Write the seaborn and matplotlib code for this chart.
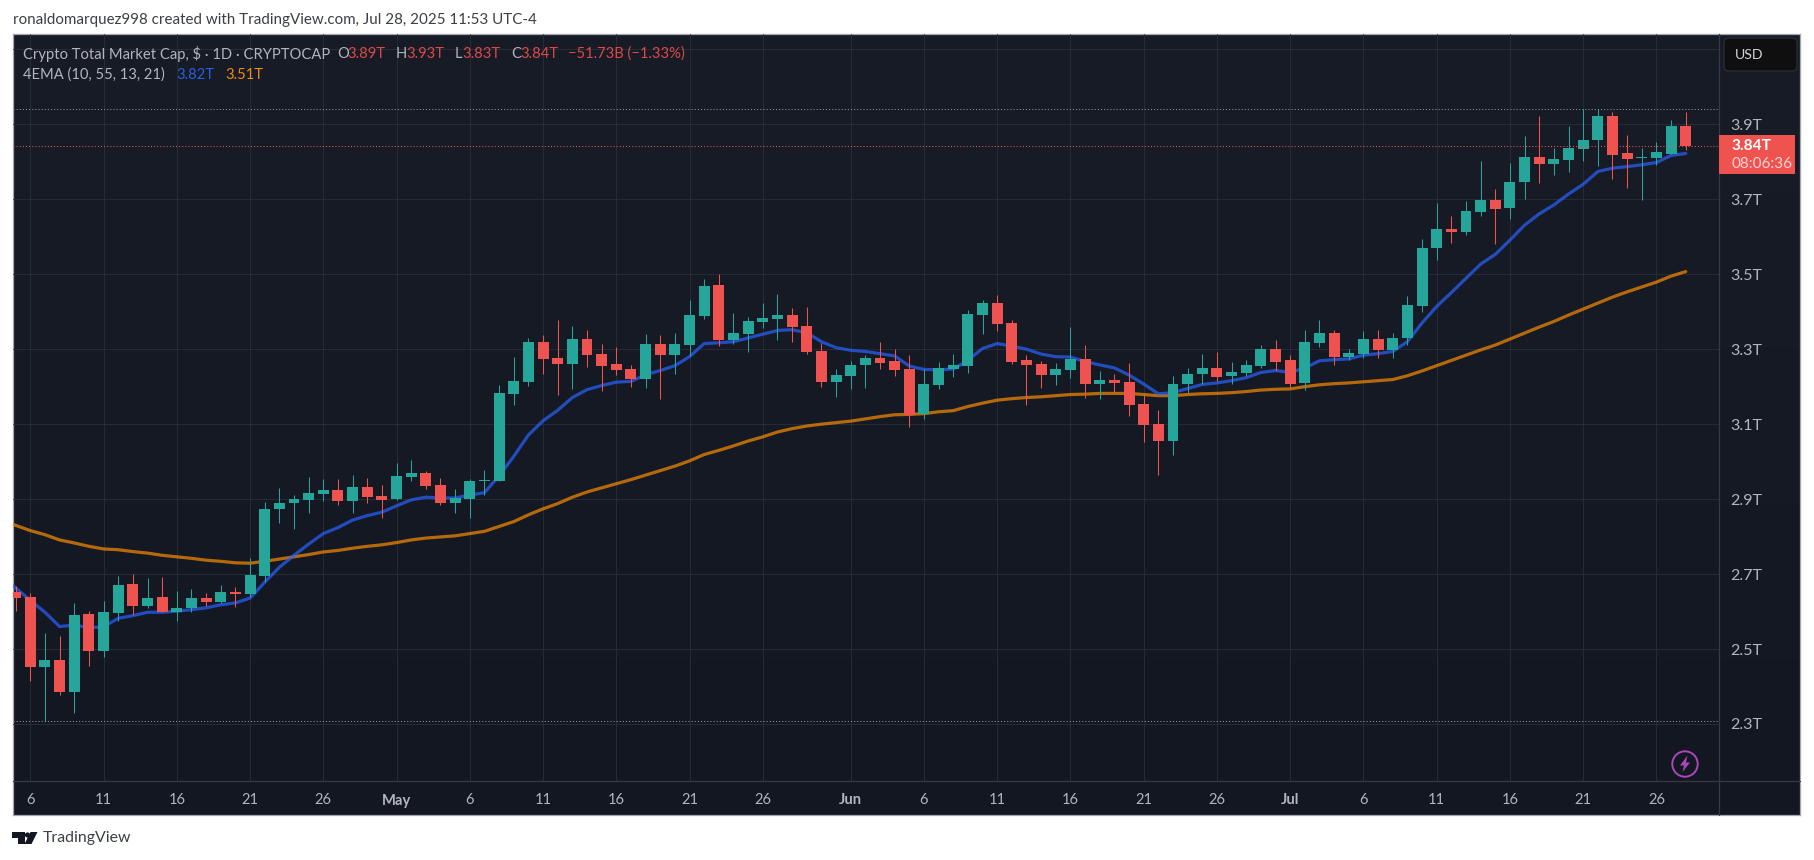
import numpy as np
import pandas as pd
import seaborn as sns
import matplotlib
matplotlib.use("Agg")
import matplotlib.pyplot as plt
import matplotlib.dates as mdates
from matplotlib.patches import Rectangle, FancyBboxPatch, Circle, Polygon
from matplotlib.colors import LinearSegmentedColormap
from matplotlib import transforms

# ---- data (trillions USD), daily 5 Apr .. 28 Jul 2025 ----
opens = [2.651,2.638,2.453,2.472,2.386,2.593,2.496,2.595,2.673,2.614,2.638,2.598,2.609,2.635,2.625,2.651,2.646,2.694,2.874,2.890,2.898,2.914,2.924,2.895,2.932,2.908,
 2.900,2.959,2.970,2.938,2.890,2.900,2.948,2.949,3.181,3.213,3.320,3.277,3.261,3.328,3.288,3.261,3.248,3.221,3.314,3.285,3.312,3.389,3.472,3.325,3.341,3.373,3.381,3.392,3.362,3.296,3.213,
 3.229,3.258,3.277,3.269,3.248,3.128,3.205,3.248,3.256,3.392,3.424,3.370,3.272,3.261,3.232,3.245,3.274,3.208,3.218,3.213,3.154,3.101,3.056,3.208,3.234,3.250,3.229,3.237,3.256,3.301,
 3.272,3.210,3.317,3.344,3.280,3.288,3.328,3.298,3.330,3.415,3.570,3.621,3.613,3.666,3.698,3.677,3.746,3.813,3.794,3.805,3.834,3.858,3.922,3.824,3.810,3.810,3.821,3.895]
highs = [2.667,2.649,2.542,2.534,2.622,2.601,2.627,2.694,2.700,2.689,2.692,2.654,2.659,2.649,2.670,2.665,2.742,2.892,2.930,2.911,2.959,2.954,2.954,2.964,2.956,2.938,
 2.997,3.005,2.975,2.956,2.927,2.954,2.978,3.205,3.280,3.330,3.338,3.378,3.362,3.352,3.314,3.306,3.258,3.341,3.338,3.344,3.432,3.488,3.501,3.397,3.386,3.424,3.448,3.410,3.413,3.317,3.248,
 3.269,3.285,3.320,3.301,3.285,3.248,3.266,3.288,3.405,3.432,3.445,3.378,3.285,3.269,3.264,3.360,3.312,3.242,3.234,3.264,3.181,3.138,3.229,3.250,3.288,3.293,3.266,3.272,3.312,3.325,
 3.285,3.352,3.378,3.352,3.301,3.349,3.352,3.344,3.442,3.594,3.690,3.655,3.695,3.802,3.727,3.797,3.869,3.922,3.837,3.895,3.941,3.941,3.933,3.871,3.837,3.853,3.912,3.933]
lows = [2.601,2.416,2.309,2.378,2.328,2.456,2.480,2.576,2.590,2.609,2.598,2.574,2.598,2.614,2.622,2.611,2.638,2.678,2.836,2.820,2.863,2.895,2.884,2.863,2.890,2.849,
 2.898,2.948,2.927,2.884,2.863,2.849,2.911,2.949,3.152,3.202,3.234,3.178,3.194,3.253,3.189,3.232,3.200,3.197,3.168,3.234,3.282,3.381,3.309,3.314,3.293,3.357,3.325,3.320,3.288,3.200,3.173,
 3.194,3.197,3.248,3.229,3.093,3.114,3.194,3.226,3.237,3.341,3.349,3.261,3.152,3.197,3.205,3.224,3.170,3.168,3.184,3.122,3.053,2.965,3.018,3.184,3.208,3.216,3.208,3.229,3.250,3.242,
 3.197,3.192,3.306,3.258,3.272,3.277,3.277,3.277,3.312,3.399,3.538,3.583,3.605,3.655,3.581,3.647,3.701,3.743,3.765,3.773,3.802,3.789,3.754,3.730,3.698,3.792,3.821,3.832]
closes = [2.635,2.453,2.472,2.386,2.590,2.496,2.598,2.670,2.614,2.635,2.598,2.609,2.635,2.625,2.651,2.646,2.697,2.874,2.890,2.900,2.916,2.924,2.895,2.932,2.906,2.898,
 2.962,2.970,2.935,2.890,2.903,2.948,2.951,3.184,3.216,3.320,3.274,3.261,3.328,3.285,3.256,3.245,3.221,3.314,3.285,3.314,3.392,3.469,3.325,3.344,3.376,3.384,3.392,3.360,3.293,3.213,3.232,
 3.258,3.277,3.264,3.245,3.125,3.208,3.250,3.258,3.394,3.424,3.368,3.266,3.258,3.232,3.248,3.274,3.208,3.218,3.210,3.152,3.098,3.056,3.208,3.234,3.250,3.226,3.240,3.258,3.301,3.266,
 3.208,3.320,3.344,3.280,3.290,3.328,3.298,3.330,3.418,3.570,3.621,3.613,3.669,3.698,3.674,3.746,3.813,3.794,3.807,3.837,3.858,3.922,3.818,3.807,3.813,3.826,3.895,3.842]

# EMAs, daily 4 Apr .. 28 Jul 2025
ema_fast = [2.692,2.663,2.630,2.598,2.560,2.564,2.557,2.559,2.582,2.589,2.598,2.598,2.601,2.605,2.610,2.618,2.623,2.636,2.678,2.718,2.750,2.780,2.808,2.824,2.844,2.856,2.865,
 2.882,2.898,2.905,2.903,2.903,2.911,2.917,2.962,3.014,3.071,3.109,3.137,3.171,3.192,3.203,3.212,3.214,3.232,3.243,3.256,3.280,3.315,3.317,3.320,3.330,3.340,3.350,3.352,3.344,3.320,3.304,
 3.297,3.294,3.288,3.282,3.255,3.246,3.245,3.247,3.270,3.302,3.315,3.308,3.300,3.287,3.280,3.279,3.267,3.258,3.250,3.231,3.207,3.181,3.184,3.195,3.206,3.210,3.216,3.224,3.238,3.243,
 3.238,3.250,3.269,3.272,3.274,3.284,3.288,3.294,3.320,3.370,3.414,3.451,3.489,3.527,3.553,3.591,3.631,3.661,3.685,3.714,3.740,3.774,3.783,3.787,3.792,3.798,3.817,3.822]
ema_slow = [2.844,2.830,2.816,2.805,2.791,2.783,2.774,2.767,2.765,2.760,2.756,2.750,2.746,2.742,2.737,2.734,2.730,2.729,2.734,2.740,2.746,2.752,2.759,2.763,2.769,2.774,2.778,
 2.784,2.791,2.796,2.799,2.802,2.808,2.814,2.827,2.840,2.858,2.874,2.888,2.905,2.919,2.930,2.941,2.952,2.964,2.976,2.988,3.002,3.019,3.030,3.042,3.055,3.066,3.079,3.088,3.095,3.100,3.104,
 3.108,3.114,3.120,3.125,3.126,3.128,3.133,3.136,3.147,3.156,3.164,3.168,3.171,3.173,3.176,3.179,3.180,3.182,3.182,3.182,3.179,3.176,3.176,3.179,3.181,3.182,3.184,3.187,3.191,3.193,
 3.194,3.200,3.205,3.208,3.210,3.213,3.216,3.219,3.229,3.242,3.256,3.270,3.284,3.298,3.311,3.327,3.343,3.359,3.374,3.391,3.407,3.423,3.439,3.453,3.466,3.479,3.495,3.507]

price_ticks = [2.3,2.5,2.7,2.9,3.1,3.3,3.5,3.7,3.9,4.1]
price_tick_labels = ["2.3T","2.5T","2.7T","2.9T","3.1T","3.3T","3.5T","3.7T","3.9T",""]
date_ticks = ["2025-04-06","2025-04-11","2025-04-16","2025-04-21","2025-04-26","2025-05-01","2025-05-06","2025-05-11","2025-05-16","2025-05-21","2025-05-26",
              "2025-06-01","2025-06-06","2025-06-11","2025-06-16","2025-06-21","2025-06-26","2025-07-01","2025-07-06","2025-07-11","2025-07-16","2025-07-21","2025-07-26"]
date_tick_labels = ["6","11","16","21","26","May","6","11","16","21","26","Jun","6","11","16","21","26","Jul","6","11","16","21","26"]
range_high = 3.94
range_low = 2.307
last_price = 3.843

UP, DOWN = "#26A69A", "#EF5350"
FONT = "Lato"

sns.set_theme(style="dark")
plt.rcParams["font.family"] = [FONT, "DejaVu Sans"]

W, H = 1814, 860
fig = plt.figure(figsize=(W/100, H/100), dpi=100, facecolor="white")
T = transforms.Affine2D().scale(1, -1).translate(0, H)   # pixel coords, y down

def rect_axes(x0, y0, x1, y1):
    return [x0/W, 1-y1/H, (x1-x0)/W, (y1-y0)/H]

# background panel with the soft vertical gradient
bg = fig.add_axes(rect_axes(13, 34, 1800, 815), zorder=0)
cm = LinearSegmentedColormap.from_list("bg", ["#181C27", "#131722"])
bg.imshow(np.linspace(0, 1, 256)[:, None], cmap=cm, aspect="auto")
bg.set_xticks([]); bg.set_yticks([])
for s in bg.spines.values():
    s.set_color("#A3A6AF"); s.set_linewidth(0.9)

ax = fig.add_axes(rect_axes(13, 34, 1719, 781), zorder=1)
ax.patch.set_alpha(0)

dates = pd.date_range("2025-04-05", "2025-07-28", freq="D")
ema_dates = pd.date_range("2025-04-04", "2025-07-28", freq="D")
ohlc = pd.DataFrame({"date": dates, "o": opens, "h": highs, "l": lows, "c": closes})
ema = pd.DataFrame({"date": ema_dates, "fast": ema_fast, "slow": ema_slow})

sns.lineplot(data=ema, x="date", y="slow", ax=ax, color="#FB8C00", alpha=0.7, lw=2.3, zorder=2, errorbar=None, legend=False)
sns.lineplot(data=ema, x="date", y="fast", ax=ax, color="#2962FF", alpha=0.7, lw=2.3, zorder=2, errorbar=None, legend=False)

colors = [UP if c >= o else DOWN for o, c in zip(ohlc.o, ohlc.c)]
ax.vlines(ohlc.date, ohlc.l, ohlc.h, colors=colors, lw=0.75, zorder=3)
ax.bar(ohlc.date, np.maximum(np.abs(ohlc.c-ohlc.o), 0.0035), bottom=np.minimum(ohlc.o, ohlc.c),
       width=0.75, color=colors, lw=0, zorder=4)

ax.axhline(range_high, color="#9598A1", lw=0.75, ls=(0, (1, 2)), zorder=5)
ax.axhline(range_low, color="#9598A1", lw=0.75, ls=(0, (1, 2)), zorder=5)
ax.axhline(last_price, color=DOWN, lw=0.75, ls=(0, (1, 2)), zorder=5)

PX_T = 374.8
ax.set_ylim(3.9-(781-124.3)/PX_T, 3.9+(124.3-34)/PX_T)
d0 = mdates.date2num(pd.Timestamp("2025-04-06"))
PX_D = 14.65
ax.set_xlim(d0-(30.3-13)/PX_D, d0+(1719-30.3)/PX_D)

ax.grid(True, color="#2A2E39", lw=0.75, alpha=0.85)
ax.set_axisbelow(True)
ax.set_yticks(price_ticks, price_tick_labels)
ax.set_xticks(pd.to_datetime(date_ticks), date_tick_labels)
ax.yaxis.tick_right()
ax.tick_params(axis="y", length=0, pad=8, labelsize=11.6, labelcolor="#B2B5BE")
ax.tick_params(axis="x", length=0, pad=9, labelsize=10.6, labelcolor="#B2B5BE")
for lab, s in zip(ax.get_xticklabels(), date_tick_labels):
    if not s.isdigit():
        lab.set_fontweight("bold")
ax.set_xlabel(""); ax.set_ylabel("")
for s in ax.spines.values():
    s.set_visible(False)
ax.spines["right"].set_visible(True); ax.spines["right"].set_color("#363A45"); ax.spines["right"].set_linewidth(0.9)
ax.spines["bottom"].set_visible(True); ax.spines["bottom"].set_color("#363A45"); ax.spines["bottom"].set_linewidth(0.9)
# separators continuing through the panels
fig.add_artist(plt.Line2D([1719, 1719], [781, 815], transform=T, color="#363A45", lw=0.9))
fig.add_artist(plt.Line2D([1719, 1800], [781, 781], transform=T, color="#363A45", lw=0.9))

def txt(x, y, s, color, size=10.6, **kw):
    fig.text(x, y, s, transform=T, color=color, fontsize=size, va="center", ha="left", zorder=21, **kw)

# header / footer
txt(13, 20, "ronaldomarquez998 created with TradingView.com, Jul 28, 2025 11:53 UTC-4", "#3C3F47", size=10.9)
txt(43, 838, "TradingView", "#3C3F47", size=11.4)
fig.add_artist(Polygon([(12,832),(25,832),(25,844),(18,844),(18,838),(12,838)], closed=True, transform=T, fc="#131722", ec="none"))
fig.add_artist(Circle((27.5,835), 2.6, transform=T, fc="#131722", ec="none"))
fig.add_artist(Polygon([(30.5,832),(37.5,832),(31.5,844),(24.5,844)], closed=True, transform=T, fc="#131722", ec="none"))

# legend rows
GREY, RED_T = "#B2B5BE", "#E04848"
txt(23, 54, "Crypto Total Market Cap, $ · 1D · CRYPTOCAP", GREY)
for x, s, c in [(337,"O",GREY),(347,"3.89T",RED_T),(396,"H",GREY),(406,"3.93T",RED_T),(455,"L",GREY),(462,"3.83T",RED_T),(511,"C",GREY),(520,"3.84T",RED_T),(568,"−51.73B (−1.33%)",RED_T)]:
    txt(x, 54, s, c)
txt(23, 75, "4EMA (10, 55, 13, 21)", GREY)
txt(176, 75, "3.82T", "#2A5FE0")
txt(225, 75, "3.51T", "#F08C12")

# USD box
fig.add_artist(FancyBboxPatch((1727,41), 67, 27, boxstyle="round,pad=3,rounding_size=5", transform=T, fc="#0F0F0F", ec="#2A2E39", lw=0.9, zorder=10))
txt(1735, 55, "USD", "#D1D4DC", size=10.2)

# last-price tag
fig.add_artist(Rectangle((1719,135), 76, 39, transform=T, fc=DOWN, ec="none", zorder=10))
txt(1731, 146, "3.84T", "white", size=11.2, fontweight="bold")
txt(1731, 164, "08:06:36", "#FBD5D3", size=11)

# lightning badge
fig.add_artist(Circle((1685,764), 12.7, transform=T, fc="#131722", ec="#AB47BC", lw=1.4, zorder=10))
fig.add_artist(Polygon([(1687.5,755.5),(1680,765.5),(1684,765.5),(1682.5,772),(1690,762.5),(1686,762.5)], closed=True, transform=T, fc="#AB47BC", ec="none", zorder=11))

fig.savefig("out.png", dpi=100, facecolor="white")
